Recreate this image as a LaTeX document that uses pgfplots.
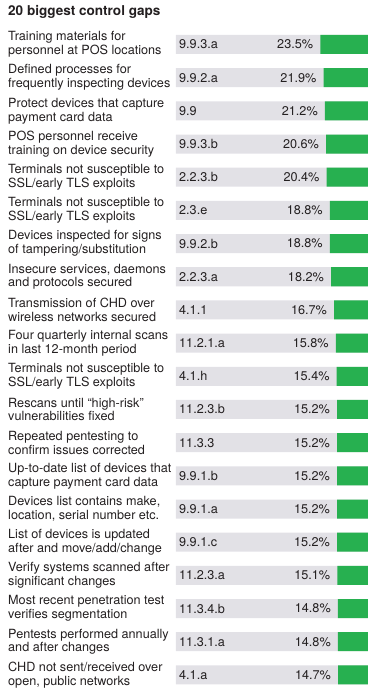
\documentclass[border=0pt]{standalone}
\usepackage{pgfplots}
\usepackage{pgfplotstable}
\usepackage{fontspec}
\setmainfont{TeX Gyre Heros}
\pgfplotsset{compat=1.18}
\definecolor{bggray}{RGB}{226,225,230}
\definecolor{bargreen}{RGB}{39,176,80}
\definecolor{txt}{RGB}{35,31,32}
\pgfplotstableread{
row value code
1 23.5 9.9.3.a
2 21.9 9.9.2.a
3 21.2 9.9
4 20.6 9.9.3.b
5 20.4 2.2.3.b
6 18.8 2.3.e
7 18.8 9.9.2.b
8 18.2 2.2.3.a
9 16.7 4.1.1
10 15.8 11.2.1.a
11 15.4 4.1.h
12 15.2 11.2.3.b
13 15.2 11.3.3
14 15.2 9.9.1.b
15 15.2 9.9.1.a
16 15.2 9.9.1.c
17 15.1 11.2.3.a
18 14.8 11.3.4.b
19 14.8 11.3.1.a
20 14.7 4.1.a
}\gaps
\begin{document}
\begin{tikzpicture}
\path[use as bounding box] (0,0) rectangle (368bp,694bp);
\node[anchor=base west, inner sep=0pt, text=txt, font=\fontsize{13.6}{15}\selectfont\bfseries] at (8bp,678.3bp) {20 biggest control gaps};
\begin{axis}[
  at={(176bp,2.5bp)}, anchor=south west,
  scale only axis, width=192bp, height=663.6bp,
  x dir=reverse, y dir=reverse,
  xmin=0, xmax=94.58, ymin=0.5, ymax=20.5,
  axis line style={draw=none}, tick style={draw=none},
  xtick=\empty, ytick={1,...,20},
  /pgf/number format/assume math mode=true,
  yticklabels={
    {Training materials for\\personnel at POS locations},
    {Defined processes for\\frequently inspecting devices},
    {Protect devices that capture\\payment card data},
    {POS personnel receive\\training on device security},
    {Terminals not susceptible to\\SSL/early TLS exploits},
    {Terminals not susceptible to\\SSL/early TLS exploits},
    {Devices inspected for signs\\of tampering/substitution},
    {Insecure services, daemons\\and protocols secured},
    {Transmission of CHD over\\wireless networks secured},
    {Four quarterly internal scans\\in last 12-month period},
    {Terminals not susceptible to\\SSL/early TLS exploits},
    {Rescans until “high-risk”\\vulnerabilities fixed},
    {Repeated pentesting to\\confirm issues corrected},
    {Up-to-date list of devices that\\capture payment card data},
    {Devices list contains make,\\location, serial number etc.},
    {List of devices is updated\\after and move/add/change},
    {Verify systems scanned after\\significant changes},
    {Most recent penetration test\\verifies segmentation},
    {Pentests performed annually\\and after changes},
    {CHD not sent/received over\\open, public networks}},
  yticklabel style={anchor=west, align=left, inner sep=0pt, xshift=-168bp,
    font=\fontsize{12.7}{14}\selectfont, text=txt},
  clip=false,
]
\addplot[xbar, bar shift=0pt, bar width=0.573, fill=bggray, draw=none,
  point meta=explicit symbolic,
  nodes near coords,
  every node near coord/.append style={anchor=west, inner sep=0pt, xshift=3bp,
    font=\fontsize{12.7}{14}\selectfont, text=txt}]
  table[x expr=94.58, y=row, meta=code] {\gaps};
\addplot[xbar, bar shift=0pt, bar width=0.573, fill=bargreen, draw=none,
  nodes near coords={\pgfmathprintnumber[fixed,precision=1,fixed zerofill,assume math mode=true]{\pgfplotspointmeta}\%},
  every node near coord/.append style={anchor=east, inner sep=0pt, xshift=-7bp,
    font=\fontsize{12.7}{14}\selectfont, text=txt}]
  table[x=value, y=row] {\gaps};
\end{axis}
\end{tikzpicture}
\end{document}
